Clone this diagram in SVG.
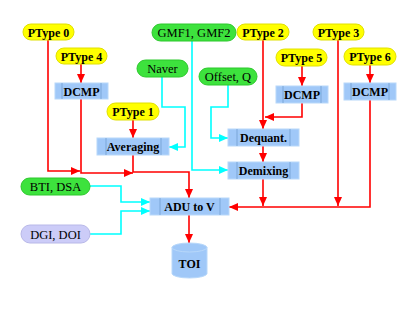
<svg xmlns="http://www.w3.org/2000/svg" width="419" height="324" viewBox="0 0 419 324">
<style>
.y{fill:#ffff00;stroke:#e0e000;stroke-width:1}
.g{fill:#3de23d;stroke:#2cc82c;stroke-width:1}
.l{fill:#ccccf8;stroke:#b8b8e8;stroke-width:1}
.b{fill:#a0c8f8;stroke:#b8d8fa;stroke-width:1}
.bi{stroke:#7aa6d8;stroke-width:1}
.tb{font-family:"Liberation Serif",serif;font-weight:bold;font-size:12px;text-anchor:middle;fill:#000}
.tr{font-family:"Liberation Serif",serif;font-size:12.5px;text-anchor:middle;fill:#000}
.r{fill:none;stroke:#ff0000;stroke-width:1.6}
.c{fill:none;stroke:#00ffff;stroke-width:1.6}
</style>
<defs>
<marker id="ar" markerUnits="userSpaceOnUse" markerWidth="9" markerHeight="8" refX="9" refY="4" orient="auto"><path d="M0,0 L9,4 L0,8 z" fill="#ff0000"/></marker>
<marker id="ac" markerUnits="userSpaceOnUse" markerWidth="9" markerHeight="8" refX="9" refY="4" orient="auto"><path d="M0,0 L9,4 L0,8 z" fill="#00ffff"/></marker>
</defs>
<rect width="419" height="324" fill="#fff"/>
<g id="edges">
<path class="r" d="M48,40 V171 H80" marker-end="url(#ar)"/>
<path class="r" d="M81,64 V83" marker-end="url(#ar)"/>
<path class="r" d="M81,99 V173 H133" marker-end="url(#ar)"/>
<path class="r" d="M133,120 V138" marker-end="url(#ar)"/>
<path class="r" d="M133,155 V172 H189 V198" marker-end="url(#ar)"/>
<path class="r" d="M263,40 V129" marker-end="url(#ar)"/>
<path class="r" d="M302,66 V86" marker-end="url(#ar)"/>
<path class="r" d="M302,103 V117 H265" marker-end="url(#ar)"/>
<path class="r" d="M263,146 V162" marker-end="url(#ar)"/>
<path class="r" d="M263,179 V206" marker-end="url(#ar)"/>
<path class="r" d="M338,40 V206" marker-end="url(#ar)"/>
<path class="r" d="M370,65 V83" marker-end="url(#ar)"/>
<path class="r" d="M370,100 V207 H229" marker-end="url(#ar)"/>
<path class="r" d="M189,215 V243" marker-end="url(#ar)"/>
<path class="c" d="M162,77 V107 H185 V147 H169" marker-end="url(#ac)"/>
<path class="c" d="M192,41 V170 H228" marker-end="url(#ac)"/>
<path class="c" d="M228,85 V107 H211 V138 H228" marker-end="url(#ac)"/>
<path class="c" d="M90,186 H121 V202 H150" marker-end="url(#ac)"/>
<path class="c" d="M90,234 H121 V211 H150" marker-end="url(#ac)"/>
</g>
<g id="ptype0"><rect class="y" x="23" y="24" width="51" height="16" rx="8"/><text class="tb" x="48.5" y="36.5">PType 0</text></g>
<g id="ptype4"><rect class="y" x="56" y="48" width="51" height="16" rx="8"/><text class="tb" x="81.5" y="60.5">PType 4</text></g>
<g id="gmf"><rect class="g" x="152" y="24" width="84" height="17" rx="8.5"/><text class="tr" x="194" y="37">GMF1, GMF2</text></g>
<g id="ptype2"><rect class="y" x="237" y="24" width="52" height="16" rx="8"/><text class="tb" x="263" y="36.5">PType 2</text></g>
<g id="ptype3"><rect class="y" x="313" y="24" width="51" height="16" rx="8"/><text class="tb" x="338.5" y="36.5">PType 3</text></g>
<g id="ptype5"><rect class="y" x="276" y="49" width="51" height="17" rx="8.5"/><text class="tb" x="301.5" y="61.5">PType 5</text></g>
<g id="ptype6"><rect class="y" x="344" y="48" width="52" height="17" rx="8.5"/><text class="tb" x="370" y="60.5">PType 6</text></g>
<g id="naver"><rect class="g" x="137" y="60" width="51" height="17" rx="8.5"/><text class="tr" x="162.5" y="73">Naver</text></g>
<g id="offset"><rect class="g" x="199" y="68" width="58" height="17" rx="8.5"/><text class="tr" x="228" y="81">Offset, Q</text></g>
<g id="dcmp4"><rect class="b" x="55" y="83" width="53" height="16"/><line class="bi" x1="62" y1="83" x2="62" y2="99"/><line class="bi" x1="101" y1="83" x2="101" y2="99"/><text class="tb" x="81.5" y="95.5">DCMP</text></g>
<g id="dcmp5"><rect class="b" x="276" y="86" width="52" height="17"/><line class="bi" x1="283" y1="86" x2="283" y2="103"/><line class="bi" x1="321" y1="86" x2="321" y2="103"/><text class="tb" x="302" y="99">DCMP</text></g>
<g id="dcmp6"><rect class="b" x="344" y="83" width="52" height="17"/><line class="bi" x1="351" y1="83" x2="351" y2="100"/><line class="bi" x1="389" y1="83" x2="389" y2="100"/><text class="tb" x="370" y="96">DCMP</text></g>
<g id="ptype1"><rect class="y" x="107" y="103" width="52" height="17" rx="8.5"/><text class="tb" x="133" y="115.5">PType 1</text></g>
<g id="averaging"><rect class="b" x="97" y="138" width="72" height="17"/><line class="bi" x1="106" y1="138" x2="106" y2="155"/><line class="bi" x1="161" y1="138" x2="161" y2="155"/><text class="tb" x="133" y="151">Averaging</text></g>
<g id="dequant"><rect class="b" x="228" y="129" width="71" height="17"/><line class="bi" x1="237" y1="129" x2="237" y2="146"/><line class="bi" x1="290" y1="129" x2="290" y2="146"/><text class="tb" x="263.5" y="142">Dequant.</text></g>
<g id="demixing"><rect class="b" x="228" y="162" width="71" height="17"/><line class="bi" x1="237" y1="162" x2="237" y2="179"/><line class="bi" x1="290" y1="162" x2="290" y2="179"/><text class="tb" x="263.5" y="175">Demixing</text></g>
<g id="bti"><rect class="g" x="21" y="178" width="69" height="17" rx="8.5"/><text class="tr" x="55.5" y="191">BTI, DSA</text></g>
<g id="adu"><rect class="b" x="150" y="198" width="79" height="17"/><line class="bi" x1="160" y1="198" x2="160" y2="215"/><line class="bi" x1="220" y1="198" x2="220" y2="215"/><text class="tb" x="189.5" y="211">ADU to V</text></g>
<g id="dgi"><rect class="l" x="21" y="225" width="69" height="18" rx="9"/><text class="tr" x="55.5" y="238.5">DGI, DOI</text></g>
<g id="toi"><path class="b" d="M172,247.5 V273.5 A17.5,4.5 0 0 0 207,273.5 V247.5 A17.5,4.5 0 0 0 172,247.5 Z"/><path d="M172,247.5 A17.5,4.5 0 0 0 207,247.5" fill="none" stroke="#b8d8fa" stroke-width="1"/><text class="tb" x="189.5" y="268">TOI</text></g>
</svg>
